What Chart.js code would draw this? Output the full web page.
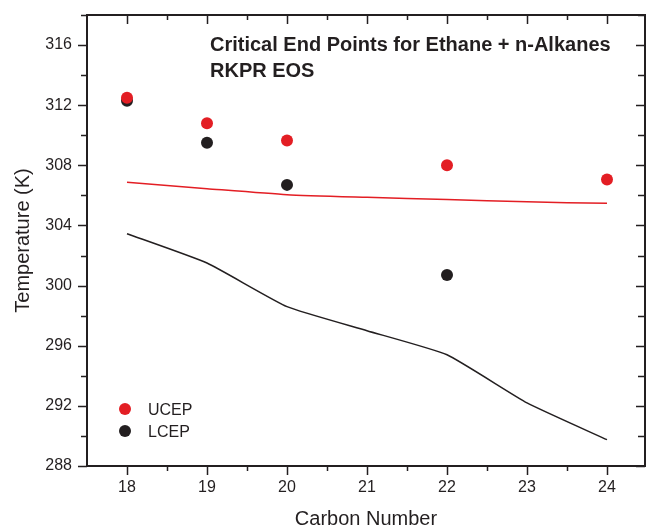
<!DOCTYPE html>
<html>
<head>
<meta charset="utf-8">
<script src="https://cdn.jsdelivr.net/npm/chart.js@4.4.1/dist/chart.umd.min.js"></script>
<style>
  html, body { margin: 0; padding: 0; background: #fff; }
  #wrap { width: 646px; height: 531px; position: relative; }
</style>
</head>
<body>
<div id="wrap"><canvas id="chartCEP" width="646" height="531"></canvas></div>
<script>
// dades llegides de la figura
const carbons = [18, 19, 20, 22, 24];
const ucep = [312.5, 310.8, 309.65, 308.0, 307.05];
const lcepCarbons = [18, 19, 20, 22];
const lcep = [312.3, 309.5, 306.7, 300.7];

// corbes del model RKPR
const modelCarbons = [18, 19, 20, 21, 22, 23, 24];
const ucepModel = [306.87, 306.45, 306.05, 305.87, 305.72, 305.57, 305.47];
const lcepModel = [303.45, 301.5, 298.6, 297.0, 295.4, 292.2, 289.75];

const xTicks = [18, 19, 20, 21, 22, 23, 24];
const yTicks = [288, 292, 296, 300, 304, 308, 312, 316];

const titol = ['Critical End Points for Ethane + n-Alkanes', 'RKPR EOS'];

const RED = '#e31e24';
const DARK = '#231f20';
const FONT = "'Liberation Sans', Arial, sans-serif";

function punts(xs, ys) {
  return xs.map((x, i) => ({ x: x, y: ys[i] }));
}

// marc, marques d'eix, títol i llegenda
const marcPlugin = {
  id: 'marc',
  afterDraw(chart) {
    const { ctx, chartArea: a, scales } = chart;
    const sx = scales.x, sy = scales.y;
    ctx.save();
    ctx.strokeStyle = DARK;
    ctx.lineWidth = 1.5;

    // marques eix X (cada 0.5)
    for (let v = 18; v <= 24.01; v += 0.5) {
      const px = Math.round(sx.getPixelForValue(v)) + 0.5;
      const major = Number.isInteger(v);
      const len = major ? 9 : 5;
      ctx.beginPath();
      ctx.moveTo(px, a.bottom); ctx.lineTo(px, a.bottom + len);
      ctx.moveTo(px, a.top); ctx.lineTo(px, a.top + len);
      ctx.stroke();
    }
    // marques eix Y (cada 2)
    for (let v = 288; v <= 318; v += 2) {
      const py = Math.round(sy.getPixelForValue(v)) + 0.5;
      const major = (v - 288) % 4 === 0;
      ctx.beginPath();
      ctx.moveTo(a.left, py); ctx.lineTo(a.left - (major ? 9 : 6), py);
      ctx.moveTo(a.right, py); ctx.lineTo(a.right - (major ? 9 : 7), py);
      ctx.stroke();
    }

    ctx.lineWidth = 2;
    ctx.strokeRect(a.left, a.top, a.right - a.left, a.bottom - a.top);

    // títol dins el gràfic
    ctx.fillStyle = DARK;
    ctx.font = 'bold 20px ' + FONT;
    ctx.textAlign = 'left';
    ctx.textBaseline = 'alphabetic';
    ctx.fillText(titol[0], 210, 51);
    ctx.fillText(titol[1], 210, 77);

    // llegenda
    ctx.font = '16px ' + FONT;
    const items = chart.data.datasets.filter(d => !d.showLine);
    items.forEach((d, i) => {
      const cy = 409 + i * 22;
      ctx.beginPath();
      ctx.fillStyle = d.backgroundColor;
      ctx.arc(125, cy, 6, 0, Math.PI * 2);
      ctx.fill();
      ctx.fillStyle = DARK;
      ctx.fillText(d.label, 148, cy + 6);
    });
    ctx.restore();
  }
};

const ctx = document.getElementById('chartCEP').getContext('2d');
new Chart(ctx, {
  type: 'scatter',
  data: {
    datasets: [
      {
        label: 'UCEP',
        data: punts(carbons, ucep),
        backgroundColor: RED,
        borderColor: RED,
        pointRadius: 6,
        pointBorderWidth: 0
      },
      {
        label: 'LCEP',
        data: punts(lcepCarbons, lcep),
        backgroundColor: DARK,
        borderColor: DARK,
        pointRadius: 6,
        pointBorderWidth: 0
      },
      {
        label: 'UCEP RKPR',
        data: punts(modelCarbons, ucepModel),
        showLine: true,
        borderColor: RED,
        backgroundColor: RED,
        borderWidth: 1.5,
        pointRadius: 0,
        tension: 0.2
      },
      {
        label: 'LCEP RKPR',
        data: punts(modelCarbons, lcepModel),
        showLine: true,
        borderColor: DARK,
        backgroundColor: DARK,
        borderWidth: 1.5,
        pointRadius: 0,
        tension: 0.15
      }
    ]
  },
  options: {
    responsive: false,
    animation: false,
    events: [],
    layout: { autoPadding: false, padding: { top: 15, right: 1, left: 0, bottom: 0 } },
    plugins: {
      legend: { display: false },
      tooltip: { enabled: false }
    },
    scales: {
      x: {
        type: 'linear',
        min: 17.5,
        max: 24.475,
        grid: { display: false, drawTicks: false },
        border: { display: false },
        afterBuildTicks: s => { s.ticks = xTicks.map(v => ({ value: v })); },
        afterFit: s => { s.height = 65; s.paddingLeft = 0; s.paddingRight = 0; },
        ticks: { color: DARK, font: { family: FONT, size: 16 }, padding: 12 },
        title: {
          display: true,
          text: 'Carbon Number',
          color: DARK,
          font: { family: FONT, size: 20 },
          padding: { top: 0, bottom: 0 }
        }
      },
      y: {
        type: 'linear',
        min: 288,
        max: 318,
        grid: { display: false, drawTicks: false },
        border: { display: false },
        afterBuildTicks: s => { s.ticks = yTicks.map(v => ({ value: v })); },
        afterFit: s => { s.width = 87; s.paddingTop = 0; s.paddingBottom = 0; },
        ticks: { color: DARK, font: { family: FONT, size: 16 }, padding: 15 },
        title: {
          display: true,
          text: 'Temperature (K)',
          color: DARK,
          font: { family: FONT, size: 20 },
          padding: { top: 11, bottom: 0 }
        }
      }
    }
  },
  plugins: [marcPlugin]
});
</script>
</body>
</html>
